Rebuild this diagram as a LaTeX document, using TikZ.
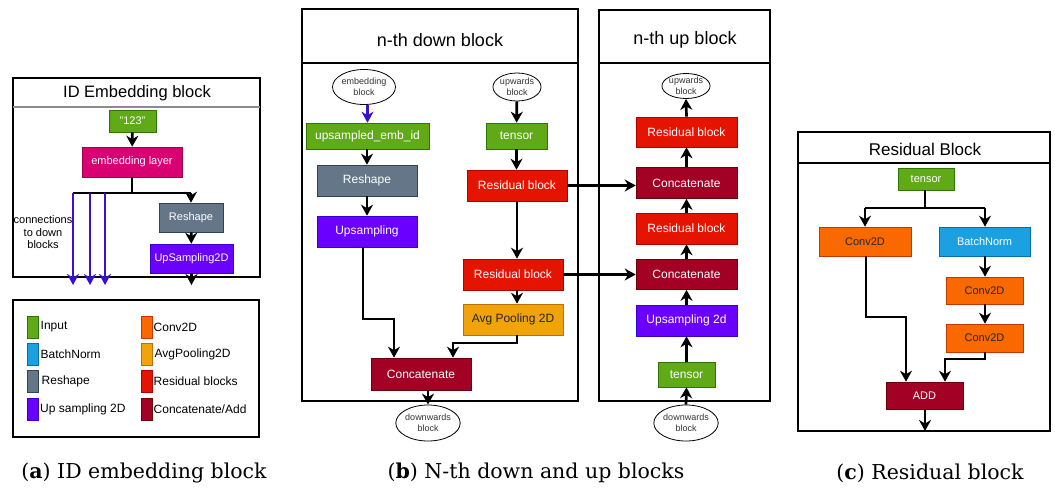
\documentclass[tikz,border=0pt]{standalone}
\usepackage{fontspec}
\setsansfont{Liberation Sans}
\newfontfamily\capfont{DejaVu Serif}
\usetikzlibrary{arrows.meta,shapes.geometric,calc}
\definecolor{cInp}{HTML}{60A917}\definecolor{sInp}{HTML}{2D7600}
\definecolor{cMag}{HTML}{D80073}\definecolor{sMag}{HTML}{A50040}
\definecolor{cGry}{HTML}{647687}\definecolor{sGry}{HTML}{314354}
\definecolor{cPur}{HTML}{6A00FF}\definecolor{sPur}{HTML}{3700CC}
\definecolor{cRed}{HTML}{E51400}\definecolor{sRed}{HTML}{B20000}
\definecolor{cDrk}{HTML}{A20025}\definecolor{sDrk}{HTML}{6F0000}
\definecolor{cOrg}{HTML}{FA6800}\definecolor{sOrg}{HTML}{C73500}
\definecolor{cAmb}{HTML}{F0A30A}\definecolor{sAmb}{HTML}{BD7000}
\definecolor{cBlu}{HTML}{1BA1E2}\definecolor{sBlu}{HTML}{006EAF}
\definecolor{cArrB}{HTML}{3A10D0}
\begin{document}
\begin{tikzpicture}[x=1pt,y=-1pt,
  bx/.style={rectangle, inner sep=0pt, line width=0.6pt, text=white, font=\sffamily\fontsize{12}{14}\selectfont},
  sz/.style 2 args={minimum width=#1pt, minimum height=#2pt},
  smalltxt/.style={font=\sffamily\fontsize{11}{13}\selectfont},
  inpbox/.style={bx, fill=cInp, draw=sInp},
  magbox/.style={bx, fill=cMag, draw=sMag},
  grybox/.style={bx, fill=cGry, draw=sGry},
  purbox/.style={bx, fill=cPur, draw=sPur},
  redbox/.style={bx, fill=cRed, draw=sRed},
  drkbox/.style={bx, fill=cDrk, draw=sDrk},
  orgbox/.style={bx, fill=cOrg, draw=sOrg, text=black!85},
  ambbox/.style={bx, fill=cAmb, draw=sAmb, text=black!85},
  blubox/.style={bx, fill=cBlu, draw=sBlu},
  ell/.style={ellipse, draw, line width=0.8pt, inner sep=0pt, align=center, text=black!80, font=\sffamily\fontsize{9}{10.5}\selectfont},
  arr/.style={line width=2.7pt, -{Stealth[length=11pt,width=12pt,inset=3.5pt]}},
  barr/.style={arr, draw=cArrB},
  ln/.style={line width=2.7pt},
  panel/.style={line width=2.6pt},
  lgt/.style={anchor=west, inner sep=0pt, font=\sffamily\fontsize{12}{14}\selectfont},
  sw/.style={rectangle, inner sep=0pt, minimum width=11pt, minimum height=22pt, line width=0.4pt},
  captxt/.style={font=\capfont\fontsize{20.5}{24}\selectfont}
]
\useasboundingbox (0,0) rectangle (1055,488);

% ---------- (a) ID embedding block ----------
\draw[panel] (13,78) rectangle (260,277);
\draw[line width=1.3pt, black!45] (13,107) -- (260,107);
\node[font=\sffamily\fontsize{16.5}{18}\selectfont] (ta) at (137,93) {ID Embedding block};
\node[inpbox, smalltxt, sz={47}{22}] (a123) at (132.5,121) {"123"};
\node[magbox, smalltxt, sz={100}{30}] (aemb) at (132,162) {embedding layer};
\node[grybox, smalltxt, sz={64}{29}] (aresh) at (191,217.5) {Reshape};
\node[purbox, smalltxt, sz={83}{29}] (aups) at (191.5,258.5) {UpSampling2D};
\coordinate (asplit) at (132,193);
\coordinate (aL) at (73,193);
\coordinate (aR) at (191,193);
\coordinate (aB2) at (90,193);
\coordinate (aB3) at (105,193);
\coordinate (aE1) at (73,285);
\coordinate (aE2) at (90,285);
\coordinate (aE3) at (105,285);
\coordinate (aOut) at (191.5,285);
\draw[arr] (a123) -- (aemb);
\draw[ln] (aemb.south) -- (asplit);
\draw[ln] (aL) -- (aR);
\draw[arr] (aR) -- (aresh.north);
\draw[arr] (aresh) -- (aups);
\draw[arr] (aups.south) -- (aOut);
\draw[barr] (aL) -- (aE1);
\draw[barr] (aB2) -- (aE2);
\draw[barr] (aB3) -- (aE3);
\node[align=center, font=\sffamily\fontsize{11}{12.5}\selectfont, inner sep=0pt] (aconn) at (43,232.5) {connections\\to down\\blocks};

% ---------- legend ----------
\draw[panel] (13,300) rectangle (259,437);
\node[sw, fill=cInp, draw=sInp] (l1) at (32.5,327) {};
\node[sw, fill=cBlu, draw=sBlu] (l2) at (32.5,354) {};
\node[sw, fill=cGry, draw=sGry] (l3) at (32.5,381.5) {};
\node[sw, fill=cPur, draw=sPur] (l4) at (32.5,409.5) {};
\node[sw, fill=cOrg, draw=sOrg] (l5) at (146.5,327) {};
\node[sw, fill=cAmb, draw=sAmb] (l6) at (146.5,354) {};
\node[sw, fill=cRed, draw=sRed] (l7) at (146.5,381.5) {};
\node[sw, fill=cDrk, draw=sDrk] (l8) at (146.5,409.5) {};
\node[lgt] (t1) at (40.5,327) {Input};
\node[lgt] (t2) at (40.5,354) {BatchNorm};
\node[lgt] (t3) at (41.5,381.5) {Reshape};
\node[lgt] (t4) at (40,409.5) {Up sampling 2D};
\node[lgt] (t5) at (153.5,327) {Conv2D};
\node[lgt] (t6) at (154.5,354) {AvgPooling2D};
\node[lgt] (t7) at (153.5,381.5) {Residual blocks};
\node[lgt] (t8) at (153.5,409.5) {Concatenate/Add};

% ---------- (b) down block ----------
\draw[panel] (302,9) rectangle (578,401);
\draw[panel] (302,63) -- (578,63);
\node[font=\sffamily\fontsize{18}{20}\selectfont] (tdown) at (440,40) {n-th down block};
\node[ell, minimum width=54pt, minimum height=35pt] (dembblk) at (364,87) {embedding\\block};
\node[inpbox, sz={123}{26}] (dupemb) at (367.5,136) {upsampled\_emb\_id};
\node[grybox, sz={100}{31}] (dresh) at (367,180.5) {Reshape};
\node[purbox, sz={100}{31}] (dups) at (367,231.5) {Upsampling};
\node[ell, minimum width=47pt, minimum height=28pt] (dupblk) at (517,87) {upwards\\block};
\node[inpbox, sz={61}{26}] (dtens) at (516.5,136) {tensor};
\node[redbox, sz={100}{31}] (drb1) at (517,185.5) {Residual block};
\node[redbox, sz={100}{31}] (drb2) at (513,274.5) {Residual block};
\node[ambbox, sz={100}{31}] (davg) at (513,319.5) {Avg Pooling 2D};
\node[drkbox, sz={100}{32}] (dcat) at (421,374) {Concatenate};
\node[ell, minimum width=54pt, minimum height=36pt] (ddownblk) at (428,423) {downwards\\block};
\draw[barr] (dembblk.south -| dupemb.north) -- (dupemb.north);
\draw[arr] (dupemb.south -| dresh.north) -- (dresh.north);
\draw[arr] (dresh) -- (dups);
\draw[arr] (dupblk) -- (dtens);
\draw[arr] (dtens) -- (dtens |- drb1.north);
\draw[arr] (drb1.south) -- (drb1.south |- drb2.north);
\draw[arr] (drb1.south |- drb2.south) -- (drb1.south |- davg.north);
\coordinate (dk1) at (363,319);
\coordinate (dk2) at (394,319);
\draw[arr] (dups.south -| dk1) -- (dk1) -- (dk2) -- (dk2 |- dcat.north);
\coordinate (dk3) at (517,343);
\coordinate (dk4) at (453,343);
\draw[arr] (davg.south -| dk3) -- (dk3) -- (dk4) -- (dk4 |- dcat.north);
\draw[arr] (dcat.south -| ddownblk.north) -- (ddownblk.north);

% ---------- (b) up block ----------
\draw[panel] (599,10) rectangle (770,401);
\draw[panel] (599,63) -- (770,63);
\node[font=\sffamily\fontsize{18}{20}\selectfont] (tup) at (685,40) {n-th up block};
\node[ell, minimum width=46pt, minimum height=25pt] (uupblk) at (686,86) {upwards\\block};
\node[redbox, sz={101}{30}] (urb1) at (686.5,132) {Residual block};
\node[drkbox, sz={101}{31}] (ucat1) at (686.5,183) {Concatenate};
\node[redbox, sz={101}{31}] (urb2) at (686.5,228.5) {Residual block};
\node[drkbox, sz={101}{30}] (ucat2) at (686.5,274.5) {Concatenate};
\node[purbox, sz={101}{31}] (uups) at (686.5,320.5) {Upsampling 2d};
\node[inpbox, sz={57}{25}] (utens) at (686.5,374.5) {tensor};
\node[ell, minimum width=54pt, minimum height=36pt] (udownblk) at (686,423) {downwards\\block};
\draw[arr] (udownblk.north) -- (utens.south);
\draw[arr] (utens) -- (uups);
\draw[arr] (uups) -- (ucat2);
\draw[arr] (ucat2) -- (urb2);
\draw[arr] (urb2) -- (ucat1);
\draw[arr] (ucat1) -- (urb1);
\draw[arr] (urb1.north) -- (uupblk.south);
\draw[arr] (drb1.east) -- (drb1.east -| ucat1.west);
\draw[arr] (drb2.east) -- (drb2.east -| ucat2.west);

% ---------- (c) residual block ----------
\draw[panel] (798,132) rectangle (1050,431);
\draw[line width=2pt] (798,163) -- (1050,163);
\node[font=\sffamily\fontsize{17}{19}\selectfont] (tres) at (925,149) {Residual Block};
\node[inpbox, smalltxt, sz={56}{22}] (rtens) at (926,179) {tensor};
\node[orgbox, smalltxt, sz={92}{29}] (rconv1) at (865,241.5) {Conv2D};
\node[blubox, smalltxt, sz={91}{29}] (rbn) at (984.5,241.5) {BatchNorm};
\node[orgbox, smalltxt, sz={77}{27}] (rconv2) at (984.5,290.5) {Conv2D};
\node[orgbox, smalltxt, sz={77}{28}] (rconv3) at (984.5,338) {Conv2D};
\node[drkbox, smalltxt, sz={77}{27}] (radd) at (924.5,395.5) {ADD};
\coordinate (rsplit) at (925,208);
\coordinate (rL) at (865,208);
\coordinate (rR) at (985,208);
\draw[ln] (rtens.south -| rsplit) -- (rsplit);
\draw[ln] (rL) -- (rR);
\draw[arr] (rL) -- (rconv1.north);
\draw[arr] (rR) -- (rR |- rbn.north);
\draw[arr] (rR |- rbn.south) -- (rR |- rconv2.north);
\draw[arr] (rR |- rconv2.south) -- (rR |- rconv3.north);
\coordinate (rk1) at (866,317);
\coordinate (rk2) at (906,317);
\draw[arr] (rconv1.south -| rk1) -- (rk1) -- (rk2) -- (rk2 |- radd.north);
\coordinate (rk3) at (985,359);
\coordinate (rk4) at (945,359);
\draw[arr] (rconv3.south -| rk3) -- (rk3) -- (rk4) -- (rk4 |- radd.north);
\coordinate (rOut) at (925,431);
\draw[arr] (radd.south -| rOut) -- (rOut);

% ---------- captions ----------
\node[captxt] (capa) at (144,473) {(\textbf{a}) ID embedding block};
\node[captxt] (capb) at (536,473) {(\textbf{b}) N-th down and up blocks};
\node[captxt] (capc) at (930,473) {(\textbf{c}) Residual block};
\end{tikzpicture}
\end{document}
